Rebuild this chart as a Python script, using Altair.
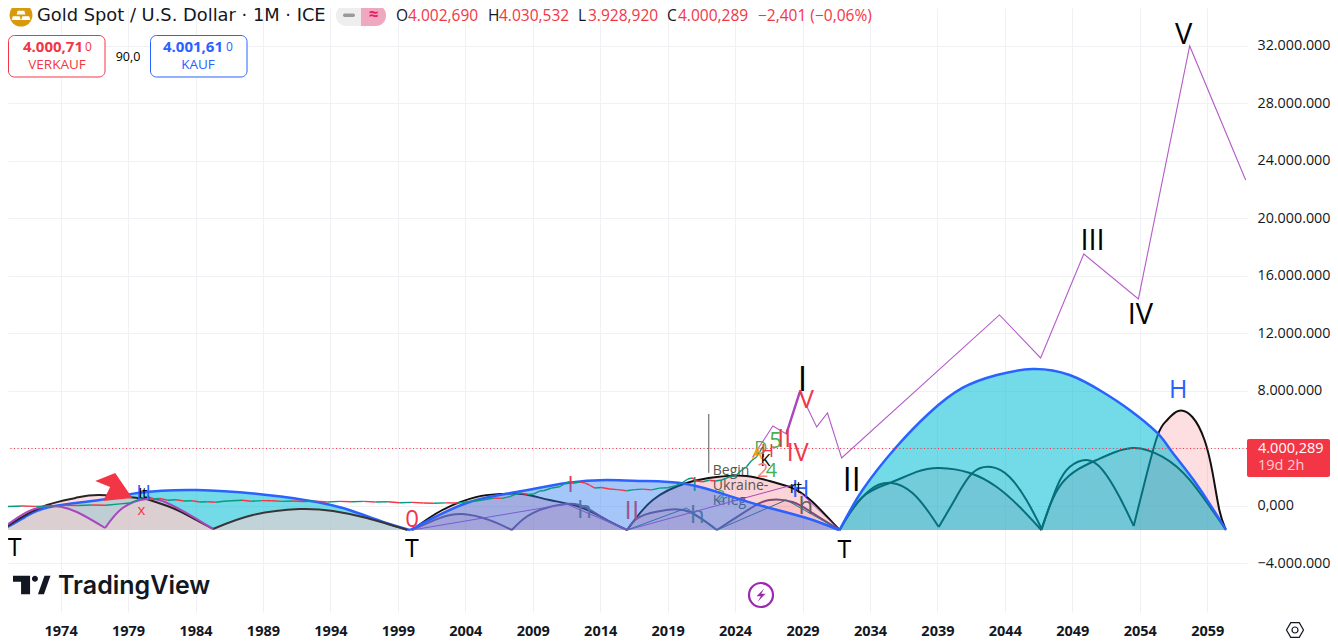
import altair as alt
import pandas as pd

FONT = "Open Sans"
BASE = -1.67

# ---- tick values
x_ticks = [1974, 1979, 1984, 1989, 1994, 1999, 2004, 2009, 2014, 2019, 2024, 2029, 2034, 2039, 2044, 2049, 2054, 2059]
y_ticks = [-4, 0, 4, 8, 12, 16, 20, 24, 28, 32]
last_price = 4.000289

# ---- cycle arcs (year, millions)
a1_x = [1969.65, 1971.35, 1973.2, 1976.9, 1979.7, 1984.1, 1989.3, 1993.0, 1995.4, 1997.9, 1999.9]
a1_y = [-1.67, -0.77, -0.07, 0.42, 0.90, 1.11, 0.77, 0.28, -0.28, -1.11, -1.67]
a2_x = [1969.65, 1971.0, 1973.0, 1975.1, 1976.9, 1979.7, 1980.6, 1982.3, 1983.8, 1985.3]
a2_y = [-1.67, -0.84, 0.07, 0.56, 0.77, 0.56, 0.42, -0.14, -0.84, -1.60]
a2u_x = [1969.65, 1971.35, 1973.2, 1976.9, 1979.7, 1980.6, 1982.3, 1983.8, 1985.3]
a2u_y = [-1.67, -0.77, -0.07, 0.42, 0.62, 0.42, -0.14, -0.84, -1.60]
a3_x = [1985.3, 1988.25, 1991.7, 1994.2, 1996.7, 1999.7]
a3_y = [-1.60, -0.63, -0.21, -0.35, -0.84, -1.67]
a4_x = [1969.65, 1971.5, 1973.4, 1975.2, 1977.3]
a4_y = [-1.60, -0.42, 0.0, -0.42, -1.53]
a5_x = [1977.3, 1978.6, 1980.4, 1981.9, 1983.6, 1985.3]
a5_y = [-1.53, -0.14, 0.49, 0.21, -0.63, -1.60]

b1_x = [1999.9, 2004.1, 2007.8, 2011.5, 2014.5, 2016.9, 2020.4, 2023.8, 2026.3, 2029.3, 2031.7]
b1_y = [-1.67, 0.21, 0.97, 1.60, 1.81, 1.74, 1.53, 0.63, -0.07, -0.84, -1.67]
b2_x = [2000.05, 2002.3, 2004.85, 2006.55, 2008.25, 2010.25, 2012.5, 2014.5, 2016.0]
b2_y = [-1.67, -0.28, 0.63, 0.83, 0.83, 0.42, -0.07, -0.98, -1.67]
b3_x = [2016.0, 2017.9, 2020.4, 2022.65, 2024.85, 2026.55, 2028.25, 2029.75, 2031.75]
b3_y = [-1.67, 0.42, 1.60, 2.02, 2.09, 1.74, 1.25, 0.28, -1.67]
p1_x = [2000.05, 2002.1, 2003.8, 2005.8, 2007.45]
p1_y = [-1.67, -0.84, -0.56, -0.98, -1.67]
p2_x = [2007.45, 2009.0, 2011.5, 2013.0, 2014.5, 2016.0]
p2_y = [-1.67, -0.49, 0.14, -0.14, -0.98, -1.67]
p3_x = [2016.0, 2016.9, 2018.9, 2020.65, 2022.65]
p3_y = [-1.67, -0.77, -0.28, -0.42, -1.67]
p4_x = [2022.65, 2023.8, 2025.3, 2026.55, 2028.25, 2029.75, 2031.75]
p4_y = [-1.67, -0.97, -0.07, 0.42, 0.28, -0.49, -1.67]

c1_x = [2031.75, 2033.45, 2035.95, 2038.4, 2040.85, 2043.4, 2046.05, 2048.8, 2051.25, 2053.25, 2055.3, 2056.4, 2058.2, 2060.4]
c1_y = [-1.67, 1.11, 4.10, 6.47, 8.21, 9.11, 9.53, 9.11, 7.93, 6.68, 5.08, 3.75, 1.53, -1.67]
c2_x = [2031.75, 2033.45, 2035.45, 2037.45, 2039.15, 2041.4, 2043.4, 2045.1, 2046.7]
c2_y = [-1.67, 0.63, 1.60, 2.37, 2.64, 2.30, 1.32, -0.07, -1.67]
c3_x = [2046.7, 2048.25, 2050.8, 2053.45, 2055.7, 2057.7, 2060.35]
c3_y = [-1.67, 1.60, 3.20, 4.03, 3.41, 1.81, -1.60]
c4_x = [2031.75, 2032.5, 2034.0, 2035.6, 2037.15, 2038.4, 2039.1]
c4_y = [-1.67, -0.49, 1.11, 1.60, 0.90, -0.49, -1.46]
c5_x = [2039.1, 2040.4, 2041.6, 2043.0, 2044.35, 2045.6, 2046.7]
c5_y = [-1.46, 0.63, 2.30, 2.71, 2.02, 0.42, -1.53]
c6_x = [2046.7, 2047.85, 2048.8, 2050.05, 2051.25, 2052.5, 2053.55]
c6_y = [-1.67, 1.32, 2.71, 3.20, 2.50, 0.63, -1.39]
c7_x = [2053.55, 2054.35, 2055.3, 2056.0, 2056.85, 2057.9, 2058.8, 2059.4, 2059.9, 2060.35]
c7_y = [-1.39, 1.60, 4.85, 5.95, 6.61, 6.19, 4.59, 2.30, -0.28, -1.60]

# ---- thin drawn lines
l1_x, l1_y = [2000.05, 2011.5, 2016.0], [-1.67, 0.14, -1.67]
l2_x, l2_y = [2016.0, 2028.25, 2031.75], [-1.67, 1.46, -1.67]
l3_x, l3_y = [2016.0, 2020.4, 2022.65], [-1.67, -0.14, -1.67]
l4_x, l4_y = [2022.65, 2027.8, 2031.75], [-1.67, 0.42, -1.67]

# ---- wave forecast
wave_x = [2025.3, 2026.8, 2027.8, 2028.8, 2030.05, 2030.85, 2031.9, 2043.6, 2046.65, 2049.85, 2053.9, 2057.7, 2061.85]
wave_y = [3.41, 5.56, 5.01, 7.93, 5.50, 6.47, 3.34, 13.29, 10.30, 17.53, 14.40, 32.0, 22.68]
wave_bold_x = [2027.8, 2028.8]
wave_bold_y = [5.01, 7.93]

# ---- price history
price_x = [1970.1, 1971.15, 1972.15, 1973.2, 1974.25, 1975.3, 1976.3, 1977.35, 1978.4, 1979.15,
           1979.6, 1980.0, 1980.45, 1980.9, 1981.35, 1981.95, 1982.55, 1983.15, 1983.75, 1984.3,
           1984.9, 1985.5, 1986.1, 1986.7, 1987.45, 1988.15, 1988.9, 1989.65, 1990.4, 1991.15,
           1992.05, 1992.9, 1993.8, 1994.7, 1995.6, 1996.45, 1997.35, 1998.25, 1999.15, 2000.05,
           2000.9, 2001.65, 2002.55, 2003.45, 2004.2, 2004.9, 2005.5, 2006.1, 2006.7, 2007.3,
           2007.75, 2008.2, 2008.6, 2009.05, 2009.5, 2009.8, 2010.4, 2011.0, 2011.45, 2011.75,
           2012.05, 2012.5, 2012.9, 2013.2, 2013.6, 2014.1, 2014.7, 2015.3, 2015.95, 2016.55,
           2017.15, 2017.8, 2018.4, 2019.0, 2019.6, 2020.05, 2020.5, 2020.8, 2021.15, 2021.6,
           2022.1, 2022.55, 2023.0, 2023.6, 2024.1, 2024.5, 2024.85, 2025.2, 2025.6, 2026.05]
price_y = [-0.04, 0.0, -0.03, 0.01, 0.04, 0.03, 0.07, 0.05, 0.15, 0.21,
           0.38, 0.56, 0.66, 0.49, 0.52, 0.40, 0.43, 0.35, 0.36, 0.28,
           0.30, 0.26, 0.33, 0.36, 0.40, 0.33, 0.37, 0.36, 0.32, 0.35,
           0.31, 0.34, 0.28, 0.32, 0.29, 0.32, 0.28, 0.29, 0.23, 0.25,
           0.21, 0.19, 0.22, 0.21, 0.30, 0.36, 0.45, 0.56, 0.53, 0.65,
           0.83, 0.90, 0.80, 0.83, 1.04, 1.06, 1.25, 1.34, 1.60, 1.69,
           1.60, 1.67, 1.59, 1.46, 1.25, 1.29, 1.18, 1.14, 1.06, 1.14,
           1.17, 1.12, 1.24, 1.27, 1.42, 1.60, 1.88, 1.95, 1.74, 1.69,
           1.79, 1.74, 1.81, 2.02, 2.15, 2.50, 2.73, 3.13, 3.43, 4.12]
war_x, war_y_top, war_y_bottom = 2022.05, 6.40, 2.31

# ---- labels: text, year, value, colour, size
under_labels = [
    ("I", 2011.8, 1.46, "#f23645", 22), ("II", 2016.35, -0.35, "#f23645", 26), ("I", 2021.0, 1.46, "#089981", 20),
    ("h", 2012.85, -0.35, "#6f6f6f", 24), ("h", 2021.2, -0.70, "#6f6f6f", 24), ("h", 2029.25, -0.07, "#5f5f5f", 24),
    ("2", 2022.95, 0.63, "#4caf50", 16),
]
war_labels = [("Begin", 2022.35, 2.43, "#555555", 14), ("Ukraine-", 2022.35, 1.39, "#555555", 14), ("Krieg", 2022.35, 0.35, "#555555", 14)]
top_labels = [
    ("T", 1970.6, -2.92, "#000000", 25), ("T", 2000.05, -3.0, "#000000", 25), ("T", 2032.1, -3.06, "#000000", 25),
    ("0", 2000.05, -0.98, "#f23645", 24), ("I", 2029.0, 8.69, "#000000", 34), ("V", 2029.3, 7.37, "#f23645", 25),
    ("II", 2027.65, 4.66, "#f23645", 25), ("5", 2027.0, 4.52, "#4caf50", 22), ("IV", 2028.65, 3.69, "#f23645", 25),
    ("II", 2032.65, 1.74, "#000000", 32), ("III", 2050.5, 18.43, "#000000", 29), ("IV", 2054.05, 13.29, "#000000", 29),
    ("V", 2057.25, 32.77, "#000000", 29), ("H", 2056.85, 8.07, "#2962ff", 25), ("H", 2028.85, 1.11, "#2962ff", 24),
    ("rt", 2028.5, 1.25, "#000000", 16), ("H", 1980.15, 0.90, "#2962ff", 20), ("It", 1980.1, 0.83, "#000000", 14),
    ("x", 1980.0, -0.28, "#f23645", 15), ("D", 2025.9, 3.96, "#4caf50", 18), ("A", 2025.65, 3.61, "#ff9800", 16),
    ("H", 2026.4, 3.76, "#f23645", 18), ("K", 2026.25, 3.13, "#000000", 16), ("2", 2026.05, 2.43, "#f7827c", 20),
    ("4", 2026.7, 2.43, "#4caf50", 20),
]
arrow_x, arrow_y = 1977.9, 1.25

PINK, PINK_A = "#f23645", 0.16
BLACK, PURPLE = "#111111", "#7a4a7a"
CURVE = "natural"

def rows(name, xs, ys, fill="#000000", alpha=1.0, stroke="#000000", sw=2.0):
    return pd.DataFrame({"id": name, "x": xs, "y": ys, "base": BASE, "fill": fill, "alpha": alpha, "stroke": stroke, "sw": sw})

xs = alt.Scale(domain=[1970.1, 2061.95], nice=False, zero=False)
ys = alt.Scale(domain=[-7.374, 34.64], nice=False, zero=False)
X = alt.X("x:Q", scale=xs, title=None)
Y = alt.Y("y:Q", scale=ys, title=None)

def fills(df):
    return alt.Chart(df).mark_area(interpolate=CURVE, strokeWidth=0).encode(
        x=X, y=Y, y2="base:Q", detail="id:N",
        fill=alt.Fill("fill:N", scale=None), opacity=alt.Opacity("alpha:Q", scale=None))

def strokes(df, interp=CURVE):
    return alt.Chart(df).mark_line(interpolate=interp).encode(
        x=X, y=Y, detail="id:N",
        color=alt.Color("stroke:N", scale=None), strokeWidth=alt.StrokeWidth("sw:Q", scale=None))

def labels(items, **kw):
    df = pd.DataFrame(items, columns=["t", "x", "y", "c", "s"])
    return alt.Chart(df).mark_text(font=FONT, **kw).encode(
        x=X, y=Y, text="t:N", color=alt.Color("c:N", scale=None), size=alt.Size("s:Q", scale=None))

# grid + axes
axis_layer = alt.Chart(pd.DataFrame({"x": [2000.0], "y": [0.0]})).mark_point(opacity=0).encode(
    x=alt.X("x:Q", scale=xs, title=None, axis=alt.Axis(
        values=x_ticks, format="d", domain=False, ticks=False, grid=True, gridColor="#f0f1f4", gridWidth=1,
        labelFont=FONT, labelFontSize=14.5, labelFontWeight="bold", labelColor="#131722", labelPadding=12, labelFlush=False, labelOverlap=False)),
    y=alt.Y("y:Q", scale=ys, title=None, axis=alt.Axis(
        orient="right", values=y_ticks, domain=False, ticks=False, grid=True, gridColor="#f0f1f4", gridWidth=1,
        labelFont=FONT, labelFontSize=14.3, labelColor="#131722", labelPadding=10, labelOverlap=False,
        labelExpr="datum.value == 0 ? '0,000' : replace(format(datum.value * 1000000, ','), regexp(',', 'g'), '.')")),
)

# under layer: pink arcs, strokes, labels (later veiled by the large translucent arcs)
pink_df = pd.concat([
    rows("a2", a2_x, a2_y, PINK, PINK_A),
    rows("b2", b2_x, b2_y, PINK, 0.22), rows("b3", b3_x, b3_y, PINK, 0.22),
    rows("p1", p1_x, p1_y, PINK, 0.10), rows("p2", p2_x, p2_y, PINK, 0.10),
    rows("p3", p3_x, p3_y, PINK, 0.10), rows("p4", p4_x, p4_y, PINK, 0.10),
    rows("c2", c2_x, c2_y, PINK, PINK_A), rows("c3", c3_x, c3_y, PINK, PINK_A),
    rows("c4", c4_x, c4_y, PINK, 0.05), rows("c5", c5_x, c5_y, PINK, 0.05),
    rows("c6", c6_x, c6_y, PINK, 0.05), rows("c7", c7_x, c7_y, PINK, PINK_A),
])
under_strokes = pd.concat([
    rows("b2", b2_x, b2_y, stroke=BLACK, sw=1.9), rows("b3", b3_x, b3_y, stroke=BLACK, sw=1.9),
    rows("p1", p1_x, p1_y, stroke=PURPLE, sw=2), rows("p2", p2_x, p2_y, stroke=PURPLE, sw=2),
    rows("p3", p3_x, p3_y, stroke=PURPLE, sw=2), rows("p4", p4_x, p4_y, stroke=PURPLE, sw=2),
    rows("c2", c2_x, c2_y, stroke=BLACK, sw=2), rows("c3", c3_x, c3_y, stroke=BLACK, sw=2),
    rows("c4", c4_x, c4_y, stroke=BLACK, sw=2), rows("c5", c5_x, c5_y, stroke=BLACK, sw=2),
    rows("c6", c6_x, c6_y, stroke=BLACK, sw=2), rows("c7", c7_x, c7_y, stroke=BLACK, sw=2),
])
big_df = pd.concat([
    rows("a1", a1_x, a1_y, "#00bcd4", 0.55), rows("b1", b1_x, b1_y, "#2f7bf0", 0.43), rows("c1", c1_x, c1_y, "#00bcd4", 0.55),
])
veil_df = pd.concat([
    rows("a2u", a2u_x, a2u_y, "#f2cfd0", 0.6), rows("a3", a3_x, a3_y, "#f2cfd0", 0.6),
    rows("a4", a4_x, a4_y, "#f8d0d0", 0.5), rows("a5", a5_x, a5_y, "#f8d0d0", 0.5),
])
big_strokes = pd.concat([
    rows("a1", a1_x, a1_y, stroke="#2962ff", sw=2.5), rows("b1", b1_x, b1_y, stroke="#2962ff", sw=2.5),
    rows("c1", c1_x, c1_y, stroke="#2962ff", sw=2.5),
])
a_strokes = pd.concat([
    rows("a2", a2_x, a2_y, stroke="#2b2526", sw=2), rows("a3", a3_x, a3_y, stroke="#3a3436", sw=2),
    rows("a4", a4_x, a4_y, stroke="#ab47bc", sw=2), rows("a5", a5_x, a5_y, stroke="#ab47bc", sw=2),
])
thin_df = pd.concat([
    rows("l1", l1_x, l1_y, stroke="#ab47bc", sw=1), rows("l2", l2_x, l2_y, stroke="#ab47bc", sw=1),
    rows("l3", l3_x, l3_y, stroke="#2f6f80", sw=1), rows("l4", l4_x, l4_y, stroke="#2f6f80", sw=1),
])
wave_df = pd.concat([rows("w", wave_x, wave_y, stroke="#b45cc8", sw=1.1), rows("wb", wave_bold_x, wave_bold_y, stroke="#ab47bc", sw=2.4)])

seg = pd.DataFrame({"x": price_x[:-1], "x2": price_x[1:], "y": price_y[:-1], "y2": price_y[1:]})
seg["c"] = ["#089981" if b >= a else "#f23645" for a, b in zip(price_y[:-1], price_y[1:])]
price_layer = alt.Chart(seg).mark_rule(strokeWidth=1.4).encode(
    x=X, x2="x2:Q", y=Y, y2="y2:Q", color=alt.Color("c:N", scale=None))

war_rule = alt.Chart(pd.DataFrame({"x": [war_x], "y": [war_y_top], "y2": [war_y_bottom]})).mark_rule(color="#555555", strokeWidth=1).encode(x=X, y=Y, y2="y2:Q")
last_line = alt.Chart(pd.DataFrame({"y": [last_price]})).mark_rule(color="#f23645", strokeWidth=1, strokeDash=[1, 2.5]).encode(y=Y)

ARROW = "M-1,-0.39 L0.11,-0.83 L1.06,0.56 L-0.56,0.72 L-0.17,-0.06 Z"
arrow = alt.Chart(pd.DataFrame({"x": [arrow_x], "y": [arrow_y]})).mark_point(
    shape=ARROW, size=1296, filled=True, color="#f23645", opacity=1, strokeWidth=0).encode(x=X, y=Y)

# ---- TradingView interface furniture, in page pixels
def P(v):
    return alt.value(v - 8)

one = pd.DataFrame({"k": [0]})

def txt(s, x, y, size, color="#131722", weight="normal", align="left", font=FONT):
    return alt.Chart(one).mark_text(text=s, font=font, fontSize=size, color=color, fontWeight=weight, align=align, baseline="middle").encode(x=P(x), y=P(y))

def box(x, x2, y, y2, **kw):
    return alt.Chart(one).mark_rect(**kw).encode(x=P(x), x2=P(x2), y=P(y), y2=P(y2))

def sym(path, x, y, size, **kw):
    return alt.Chart(one).mark_point(shape=path, size=size, opacity=1, **kw).encode(x=P(x), y=P(y))

RED, BLUE = "#f23645", "#2962ff"
LOGO_BARS = "M-0.3,-0.38 L0.3,-0.38 L0.4,-0.05 L-0.4,-0.05 Z M-0.75,0.12 L-0.12,0.12 L-0.02,0.45 L-0.85,0.45 Z M0.12,0.12 L0.75,0.12 L0.85,0.45 L0.02,0.45 Z"
TV = ("M-1,-0.5 L-0.09,-0.5 L-0.09,0.5 L-0.57,0.5 L-0.57,-0.17 L-1,-0.17 Z "
      "M0.01,-0.33 a0.16,0.16 0 1,0 0.32,0 a0.16,0.16 0 1,0 -0.32,0 Z "
      "M0.33,0.5 L0.65,0.5 L1,-0.5 L0.68,-0.5 Z")
BOLT = "M0.3,-0.6 L-0.4,0.12 L-0.02,0.12 L-0.3,0.6 L0.4,-0.12 L0.02,-0.12 Z"
HEX = "M-0.5,-0.87 L0.5,-0.87 L1,0 L0.5,0.87 L-0.5,0.87 L-1,0 Z"

chrome = [
    sym("circle", 21, 15, 529, filled=True, color="#d9990c", strokeWidth=0),
    sym(LOGO_BARS, 21, 15, 480, filled=True, color="#ffffff", strokeWidth=0),
    txt("Gold Spot / U.S. Dollar · 1M · ICE", 37, 16, 17.85, font="DejaVu Sans"),
    box(336, 361, 5, 26, fill="#eeeeef", cornerRadiusTopLeft=10, cornerRadiusBottomLeft=10),
    box(361, 386, 5, 26, fill="#f0a8c0", cornerRadiusTopRight=10, cornerRadiusBottomRight=10),
    box(343, 355, 13.5, 17, fill="#9a9a9c", cornerRadius=2),
    txt("≈", 373.5, 15, 17, color="#e91e63", align="center", weight="bold"),
    txt("O", 396, 16, 15.5), txt("4.002,690", 408, 16, 15.5, RED),
    txt("H", 488, 16, 15.5), txt("4.030,532", 499, 16, 15.5, RED),
    txt("L", 578, 16, 15.5), txt("3.928,920", 588, 16, 15.5, RED),
    txt("C", 667, 16, 15.5), txt("4.000,289", 678, 16, 15.5, RED),
    txt("−2,401 (−0,06%)", 758, 16, 15.5, RED),
    box(8.5, 105, 35.5, 77, fill="#ffffff", stroke=RED, strokeWidth=1, cornerRadius=6),
    txt("4.000,71", 83, 47, 15, RED, "bold", "right"), txt("0", 85, 47, 12, RED),
    txt("VERKAUF", 57, 65, 13.5, RED, align="center"),
    txt("90,0", 128, 57, 12.5, "#000000", align="center"),
    box(150.5, 247, 35.5, 77, fill="#ffffff", stroke=BLUE, strokeWidth=1, cornerRadius=6),
    txt("4.001,61", 223, 47, 15, BLUE, "bold", "right"), txt("0", 226, 47, 12, BLUE),
    txt("KAUF", 198, 65, 13.5, BLUE, align="center"),
    box(1247, 1330, 439, 477, fill=RED, cornerRadius=2),
    txt("4.000,289", 1258, 449, 14.5, "#ffffff"),
    txt("19d 2h", 1258, 466, 14.5, "#fbcdd1"),
    sym(TV, 31.75, 585, 1406, filled=True, color="#131722", strokeWidth=0),
    txt("TradingView", 58, 586, 25, "#131722", 600, font="Inter"),
    sym("circle", 761, 595, 576, filled=True, fill="#ffffff", stroke="#9c27b0", strokeWidth=2.2),
    sym(BOLT, 761, 595, 500, filled=True, color="#9c27b0", strokeWidth=0),
    sym(HEX, 1295, 630, 289, filled=False, color="#131722", strokeWidth=1.2),
    sym("circle", 1295, 630, 36, filled=False, color="#131722", strokeWidth=1.2),
]

layers = [
    axis_layer,
    fills(pink_df),
    strokes(under_strokes),
    labels(under_labels),
    labels(war_labels, align="left"),
    strokes(thin_df, "linear"),
    fills(big_df),
    fills(veil_df),
    strokes(big_strokes),
    strokes(a_strokes),
    price_layer,
    war_rule,
    last_line,
    strokes(wave_df, "linear"),
    arrow,
    labels(top_labels),
] + chrome

chart = alt.layer(*layers).properties(
    width=1239, height=604,
    autosize=alt.AutoSizeParams(type="none"),
    padding={"left": 0, "top": 0, "right": 83, "bottom": 28},
    background="#ffffff",
).configure_view(stroke=None)

chart.save("out.html", embed_options={"renderer": "svg", "actions": False})
